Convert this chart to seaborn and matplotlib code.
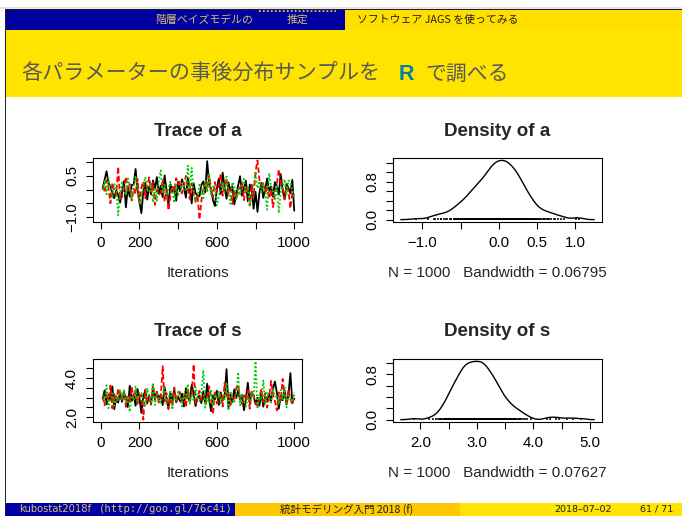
import numpy as np
import pandas as pd
import matplotlib
matplotlib.use("Agg")
import matplotlib.pyplot as plt
from matplotlib.patches import Rectangle
from matplotlib.lines import Line2D
import seaborn as sns

# ---- MCMC output: 3 chains, thinned to every 10th iteration ----
iterations = np.arange(10, 1001, 10)

a_chain1 = [
    0.04, 0.36, 0.66, 0.22, 0.13, -0.12, -0.31, -0.03, -0.20, -0.47,
    -0.09, 0.30, -0.64, 0.07, -0.25, 0.16, 0.18, 0.74, 0.00, -0.45,
    -0.85, -0.06, 0.25, -0.36, 0.10, -0.17, 0.33, 0.02, 0.45, -0.15,
    0.14, -0.27, 0.51, -0.02, -0.56, 0.19, -0.07, 0.09, -0.40, 0.28,
    -0.07, 0.37, 0.09, -0.29, 0.43, 0.05, -0.50, 0.23, -0.13, -0.21,
    -0.24, 0.17, 0.29, -0.10, 1.02, 0.21, 0.01, -0.38, -0.59, 0.03,
    0.39, -0.16, 0.61, 0.08, -0.33, 0.26, -0.04, 0.12, -0.53, -0.19,
    0.15, 0.48, -0.22, 0.06, 0.32, -0.42, 0.18, -0.01, -0.69, -0.08,
    -0.80, -0.11, 0.24, -0.30, 0.02, 0.40, -0.05, 0.11, -0.26, 0.27,
    0.13, -0.18, 0.56, -0.02, -0.35, 0.20, 0.06, -0.14, 0.35, -0.76,
]
a_chain2 = [
    0.15, -0.10, 0.33, 0.06, -0.49, 0.24, -0.02, -0.21, 0.82, -0.36,
    -0.27, 0.12, 0.46, -0.05, 0.20, -0.39, 0.03, -0.15, 0.38, -0.45,
    0.08, 0.29, -0.31, 0.10, 0.44, -0.08, 0.26, -0.55, 0.00, -0.19,
    -0.12, 0.36, -0.43, 0.01, -0.75, -0.24, 0.14, -0.07, 0.41, 0.18,
    0.31, -0.14, 0.16, 0.49, 0.07, -0.34, 0.22, -0.03, -0.47, -0.17,
    -1.08, -0.41, 0.09, 0.25, -0.04, 0.53, 0.04, -0.28, 0.27, -0.09,
    0.13, 0.58, -0.22, 0.17, 0.39, -0.16, 0.02, -0.52, 0.00, -0.29,
    -0.11, 0.07, 0.26, -0.38, 0.11, -0.06, -0.58, 0.21, -0.26, 0.65,
    1.05, 0.34, 0.15, 0.23, -0.13, 0.05, -0.32, -0.01, -0.63, -0.18,
    0.19, 0.72, 0.28, 0.03, -0.35, 0.10, -0.05, -0.68, -0.10, -0.23,
]
a_chain3 = [
    -0.01, 0.34, -0.17, 0.42, 0.08, -0.32, 0.19, 0.10, -0.92, -0.12,
    0.26, -0.04, -0.21, 0.40, 0.05, -0.35, 0.15, 0.50, -0.06, -0.54,
    -0.25, 0.12, 0.45, 0.01, -0.09, 0.22, -0.45, 0.03, -0.40, 0.31,
    0.69, -0.14, 0.17, -0.28, 0.06, 0.28, -0.02, -0.48, 0.18, -0.19,
    -0.11, 0.24, 0.13, -0.06, 0.86, 0.02, 0.78, -0.16, -0.43, -0.30,
    0.21, 0.00, -0.37, 0.36, -0.08, 0.54, -0.23, 0.11, 0.09, -0.57,
    -0.24, 0.04, 0.29, -0.10, 0.47, -0.03, -0.51, 0.27, 0.16, -0.39,
    0.01, -0.20, 0.20, 0.38, -0.13, 0.12, -0.62, -0.26, 0.08, 0.64,
    0.05, 0.30, -0.15, 0.23, -0.05, -0.72, 0.59, 0.14, -0.07, -0.34,
    0.17, -0.84, -0.09, 0.07, 0.37, -0.18, 0.33, 0.25, -0.02, -0.29,
]

s_chain1 = [
    2.95, 3.37, 2.66, 3.14, 2.88, 3.57, 2.41, 3.07, 2.75, 3.28,
    2.79, 3.22, 3.03, 2.52, 3.61, 2.83, 3.18, 2.59, 3.44, 2.99,
    2.22, 3.09, 3.33, 2.71, 3.11, 2.69, 3.51, 2.92, 3.30, 2.90,
    3.16, 2.62, 3.54, 2.97, 2.47, 3.25, 2.85, 3.40, 2.77, 3.05,
    2.82, 3.20, 2.55, 3.48, 3.02, 2.81, 3.66, 3.21, 2.57, 3.01,
    3.10, 2.72, 3.32, 2.70, 3.71, 2.93, 2.31, 3.12, 2.91, 3.35,
    2.63, 3.26, 2.86, 3.06, 4.45, 2.50, 3.17, 2.78, 3.42, 2.98,
    3.36, 2.89, 3.13, 2.36, 2.94, 3.76, 2.74, 3.29, 3.08, 2.67,
    3.00, 2.60, 3.24, 2.54, 3.04, 2.80, 3.19, 2.84, 3.46, 3.82,
    3.27, 2.44, 3.07, 2.87, 3.39, 2.65, 3.15, 4.25, 2.76, 2.96,
]
s_chain2 = [
    3.03, 2.61, 3.24, 2.83, 3.62, 2.46, 3.18, 2.78, 3.47, 2.98,
    2.89, 3.36, 2.53, 3.12, 2.72, 3.55, 2.92, 3.32, 2.68, 3.09,
    3.15, 1.88, 3.41, 2.86, 3.06, 2.64, 3.68, 2.95, 3.28, 2.75,
    3.00, 4.60, 2.80, 3.22, 2.41, 3.01, 2.57, 3.52, 2.81, 3.21,
    3.29, 2.74, 3.07, 2.51, 3.39, 2.87, 3.14, 4.70, 2.66, 2.94,
    3.35, 2.90, 3.11, 2.69, 2.91, 3.58, 3.10, 2.15, 3.34, 2.71,
    2.79, 3.19, 2.55, 3.75, 2.99, 3.26, 2.62, 3.04, 2.84, 3.49,
    3.65, 2.93, 2.67, 3.13, 2.88, 3.38, 2.44, 3.31, 3.08, 2.73,
    2.59, 3.02, 3.45, 2.77, 3.23, 2.49, 2.97, 3.85, 3.17, 2.82,
    2.35, 3.27, 2.85, 3.95, 3.05, 2.76, 3.43, 2.96, 2.63, 3.16,
]
s_chain3 = [
    3.15, 2.76, 3.64, 2.46, 2.95, 3.22, 2.59, 3.02, 2.83, 3.42,
    2.92, 3.36, 2.67, 3.07, 2.28, 3.11, 2.88, 3.57, 2.72, 3.28,
    3.25, 2.85, 2.53, 3.49, 3.04, 2.79, 3.74, 2.63, 3.18, 2.98,
    2.74, 3.13, 3.59, 2.69, 2.94, 3.38, 2.39, 3.09, 2.90, 3.31,
    3.06, 2.56, 3.27, 2.87, 3.69, 2.66, 3.20, 2.81, 3.54, 3.00,
    2.82, 3.21, 4.40, 2.49, 3.01, 2.77, 3.44, 2.58, 3.16, 2.96,
    3.35, 2.71, 3.10, 2.91, 3.79, 2.34, 3.33, 2.93, 2.73, 3.12,
    4.30, 2.61, 3.19, 2.84, 2.55, 3.03, 2.80, 3.24, 2.99, 4.85,
    2.43, 3.14, 2.89, 3.88, 2.68, 3.29, 2.95, 2.75, 3.47, 3.08,
    3.05, 2.64, 3.39, 2.86, 3.52, 2.51, 3.17, 2.97, 2.78, 3.26,
]

n_iter = 1000
bandwidth_a = 0.06795
bandwidth_s = 0.07627

chain_names = ["1", "2", "3"]
chain_colors = {"1": "black", "2": "#ff0000", "3": "#00cd00"}
chain_dashes = {"1": "", "2": (3, 1.5), "3": (1, 1.2)}

# ---- slide texts ----
nav_section = "階層ベイズモデルの"
nav_section2 = "推定"
nav_subsection = "ソフトウェア JAGS を使ってみる"
slide_title_1 = "各パラメーターの事後分布サンプルを"
slide_title_r = "R"
slide_title_2 = "で調べる"
foot_author = "kubostat2018f"
foot_url = "(http://goo.gl/76c4i)"
foot_title = "統計モデリング入門 2018 (f)"
foot_date = "2018–07–02"
foot_page = "61 / 71"

# ---- style ----
sns.set_theme(style="ticks")
plt.rcParams["font.family"] = ["Liberation Sans", "Noto Sans CJK JP", "DejaVu Sans"]
plt.rcParams["axes.unicode_minus"] = True
JP = ["Noto Sans CJK JP", "DejaVu Sans"]

W, H = 682, 516
fig = plt.figure(figsize=(W / 100, H / 100), dpi=100, facecolor="white")


def fx(px):
    return px / W


def fy(py):
    return 1 - py / H


def band(x0, y0, x1, y1, color):
    fig.patches.append(Rectangle((fx(x0), fy(y1)), (x1 - x0) / W, (y1 - y0) / H,
                                 transform=fig.transFigure, color=color, lw=0, zorder=0))


NAVY = "#0000a0"
YELLOW = "#ffe400"
ORANGE = "#ffc800"
KHAKI = "#d8c068"

# header
band(0, 7.5, W, 8.5, "#e4e4e4")
band(5, 9, W, 10, "#202020")
band(6, 10, 345, 30, NAVY)
band(345, 10, W, 30, "#ffdf00")
band(6, 30, W, 97, YELLOW)
band(5, 9, 6, H, "#202020")
# footer
band(6, 503, 235, H, NAVY)
band(235, 503, 460, H, ORANGE)
band(460, 503, W, H, YELLOW)

fig.add_artist(Line2D([fx(259), fx(336)], [fy(10.5), fy(10.5)], transform=fig.transFigure,
                      color=KHAKI, lw=1.3, ls=(0, (1, 1.2))))

fig.text(fx(155), fy(20), nav_section, family=JP, fontsize=7.8, color=KHAKI, ha="left", va="center")
fig.text(fx(287), fy(20), nav_section2, family=JP, fontsize=7.8, color=KHAKI, ha="left", va="center")
fig.text(fx(357), fy(20), nav_subsection, family=JP, fontsize=7.8, color="#202020", ha="left", va="center")

fig.text(fx(21), fy(80), slide_title_1, family=JP, fontsize=15.2, color="#595959", ha="left", va="baseline")
fig.text(fx(406), fy(80), slide_title_r, family=["Liberation Sans"], fontsize=15.5, fontweight="bold",
         color="#0a7f9c", ha="center", va="baseline")
fig.text(fx(425), fy(80), slide_title_2, family=JP, fontsize=15.0, color="#595959", ha="left", va="baseline")

fig.text(fx(19), fy(509.5), foot_author, family=["DejaVu Sans"], fontsize=7.2, color=KHAKI, ha="left", va="center")
fig.text(fx(233), fy(509.5), foot_url, family=["DejaVu Sans Mono"], fontsize=7.6, color=KHAKI, ha="right", va="center")
fig.text(fx(347), fy(509.5), foot_title, family=JP, fontsize=7.6, color="#202020", ha="center", va="center")
fig.text(fx(612), fy(509.5), foot_date, family=["DejaVu Sans"], fontsize=6.8, color="#202020", ha="right", va="center")
fig.text(fx(673), fy(509.5), foot_page, family=["DejaVu Sans"], fontsize=6.8, color="#202020", ha="right", va="center")


# ---- plotting helpers ----
def r_range(lo, hi, frac=0.04):
    pad = (hi - lo) * frac
    return lo - pad, hi + pad


def style_axes(ax):
    for sp in ax.spines.values():
        sp.set_visible(True)
        sp.set_color("black")
        sp.set_linewidth(0.8)
    ax.set_facecolor("white")
    ax.grid(False)
    ax.set_xlabel("")
    ax.set_ylabel("")
    ax.tick_params(axis="both", direction="out", length=5, width=0.8, colors="black",
                   labelsize=10.8, bottom=True, left=True)
    ax.tick_params(axis="x", pad=5)
    ax.tick_params(axis="y", pad=5)


def set_ticks(ax, xt, xl, yt, yl):
    ax.set_xticks(xt)
    ax.set_xticklabels(xl)
    ax.set_yticks(yt)
    ax.set_yticklabels(yl, rotation=90, va="center")


def draw_trace(ax, chains):
    df = pd.concat([pd.DataFrame({"iteration": iterations, "value": v, "chain": k})
                    for k, v in chains.items()], ignore_index=True)
    sns.lineplot(data=df, x="iteration", y="value", hue="chain", style="chain",
                 hue_order=chain_names, style_order=chain_names,
                 palette=chain_colors, dashes=chain_dashes, estimator=None, sort=False,
                 linewidth=1.3, legend=False, ax=ax)
    allv = df["value"].to_numpy()
    ax.set_xlim(-40, 1040)
    ax.set_ylim(*r_range(allv.min(), allv.max()))
    style_axes(ax)


def draw_density(ax, chains, bw):
    allv = np.concatenate([np.asarray(v) for v in chains.values()])
    sd = np.std(allv, ddof=1)
    sns.kdeplot(x=allv, bw_method=bw / sd, cut=3, gridsize=512, color="black",
                linewidth=1.0, ax=ax)
    line = ax.lines[-1]
    xs, ys = line.get_xdata(), line.get_ydata()
    peak = ys.max()
    # observed samples marked along the baseline
    ax.vlines(allv, 0, peak / 45, color="black", linewidth=1.1)
    ax.set_xlim(*r_range(xs.min(), xs.max()))
    ax.set_ylim(-0.04 * peak, 1.04 * peak)
    style_axes(ax)


AX_W = 209 / W
tx, dx = 93, 393
row_top = {"a": (158, 222), "s": (359, 422)}


def make_ax(x0, key):
    t, b = row_top[key]
    return fig.add_axes([fx(x0), fy(b), AX_W, (b - t) / H])


ax_ta = make_ax(tx, "a")
ax_da = make_ax(dx, "a")
ax_ts = make_ax(tx, "s")
ax_ds = make_ax(dx, "s")

chains_a = {"1": a_chain1, "2": a_chain2, "3": a_chain3}
chains_s = {"1": s_chain1, "2": s_chain2, "3": s_chain3}

draw_trace(ax_ta, chains_a)
draw_trace(ax_ts, chains_s)
draw_density(ax_da, chains_a, bandwidth_a)
draw_density(ax_ds, chains_s, bandwidth_s)

it_ticks = [0, 200, 400, 600, 800, 1000]
it_labels = ["0", "200", "", "600", "", "1000"]
set_ticks(ax_ta, it_ticks, it_labels,
          [-1.0, -0.5, 0.0, 0.5, 1.0], ["\u22121.0", "", "", "0.5", ""])
set_ticks(ax_ts, it_ticks, it_labels,
          [2.0, 2.5, 3.0, 3.5, 4.0, 4.5], ["2.0", "", "", "", "4.0", ""])
set_ticks(ax_da, [-1.0, -0.5, 0.0, 0.5, 1.0], ["\u22121.0", "", "0.0", "0.5", "1.0"],
          [0.0, 0.2, 0.4, 0.6, 0.8, 1.0, 1.2], ["0.0", "", "", "", "0.8", "", ""])
set_ticks(ax_ds, [2.0, 2.5, 3.0, 3.5, 4.0, 4.5, 5.0], ["2.0", "", "3.0", "", "4.0", "", "5.0"],
          [0.0, 0.2, 0.4, 0.6, 0.8, 1.0], ["0.0", "", "", "", "0.8", ""])
ax_da.set_ylim(ax_da.get_ylim())
ax_ds.set_ylim(ax_ds.get_ylim())

# titles and axis captions
cx_t, cx_d = tx + 104.5, dx + 104.5
for cx, py, txt in [(cx_t, 136, "Trace of a"), (cx_d, 136, "Density of a"),
                    (cx_t, 336, "Trace of s"), (cx_d, 336, "Density of s")]:
    fig.text(fx(cx), fy(py), txt, ha="center", va="baseline", fontsize=13.5, fontweight="bold")

for cx, py, txt in [(cx_t, 277, "Iterations"),
                    (cx_d, 277, f"N = {n_iter}   Bandwidth = {bandwidth_a}"),
                    (cx_t, 477, "Iterations"),
                    (cx_d, 477, f"N = {n_iter}   Bandwidth = {bandwidth_s}")]:
    fig.text(fx(cx), fy(py), txt, ha="center", va="baseline", fontsize=11)

fig.savefig("out.png", dpi=100, facecolor="white")
